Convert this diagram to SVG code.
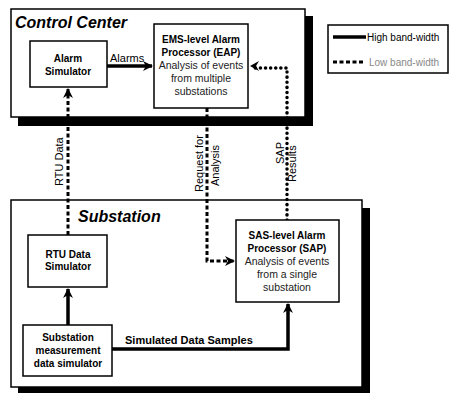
<svg xmlns="http://www.w3.org/2000/svg" width="450" height="393" viewBox="0 0 450 393">
  <defs>
    <style>
      .box { fill: #fff; stroke: #000; stroke-width: 1.5; }
      .shadow { fill: #000; }
      .title { font-family: "Liberation Sans", Arial, sans-serif; font-size: 16px; font-weight: bold; font-style: italic; fill: #000; }
      .bold { font-family: "Liberation Sans", Arial, sans-serif; font-size: 10px; font-weight: bold; fill: #000; text-anchor: middle; }
      .plain { font-family: "Liberation Sans", Arial, sans-serif; font-size: 10.5px; fill: #222; text-anchor: middle; }
      .lbl { font-family: "Liberation Sans", Arial, sans-serif; font-size: 11px; fill: #000; }
      .key { font-family: "Liberation Sans", Arial, sans-serif; font-size: 10px; fill: #000; }
      .high { fill: none; stroke: #000; stroke-width: 3.5; }
      .low { fill: none; stroke: #000; stroke-width: 3; stroke-dasharray: 4 2.5; }
      .dots { fill: none; stroke: #000; stroke-width: 3.5; stroke-linecap: round; stroke-dasharray: 0.1 5; }
    </style>
    <marker id="arrow" viewBox="0 0 10 10" refX="9" refY="5" markerWidth="10" markerHeight="10" markerUnits="userSpaceOnUse" orient="auto">
      <path d="M0,0 L10,5 L0,10 L3,5 Z" fill="#000"/>
    </marker>
  </defs>

  <!-- Control Center container -->
  <g id="control-center">
    <rect class="shadow" x="18" y="16" width="295" height="110"/>
    <rect class="box" x="11" y="9" width="294" height="108"/>
    <text class="title" x="15" y="28">Control Center</text>
  </g>

  <!-- Substation container -->
  <g id="substation">
    <rect class="shadow" x="18" y="208" width="352" height="190"/>
    <rect class="box" x="11" y="200" width="351" height="187"/>
    <text class="title" x="78" y="222">Substation</text>
  </g>

  <!-- Legend -->
  <g id="legend">
    <rect class="box" x="328" y="25" width="120" height="48"/>
    <line x1="333" y1="37" x2="366" y2="37" stroke="#000" stroke-width="3.5"/>
    <text class="key" x="367" y="40.5">High band-width</text>
    <line x1="333" y1="62" x2="364" y2="62" stroke="#000" stroke-width="3" stroke-dasharray="4 2.5"/>
    <text class="key" x="369" y="65.5" style="fill:#888">Low band-width</text>
  </g>

  <!-- Connectors -->
  <g id="connectors">
    <!-- Alarms -->
    <line class="high" x1="107" y1="66" x2="152" y2="66" marker-end="url(#arrow)"/>
    <text class="lbl" x="110" y="62">Alarms</text>
    <!-- RTU Data -->
    <line class="low" x1="68" y1="235" x2="68" y2="89" marker-end="url(#arrow)"/>
    <text class="lbl" transform="translate(63,186) rotate(-90)">RTU Data</text>
    <!-- Request for Analysis -->
    <path class="low" d="M207,108 V261 H234" marker-end="url(#arrow)"/>
    <text class="lbl" transform="translate(203,192) rotate(-90)">Request for</text>
    <text class="lbl" transform="translate(219,186) rotate(-90)">Analysis</text>
    <!-- SAP Results -->
    <path class="dots" d="M287,220 V68 H252"/>
    <path d="M250,66 L259,61 L256,66 L259,71 Z" fill="#000"/>
    <text class="lbl" transform="translate(284,164) rotate(-90)">SAP</text>
    <text class="lbl" transform="translate(296,182) rotate(-90)">Results</text>
    <!-- Measurement to RTU simulator -->
    <line class="high" x1="68" y1="325" x2="68" y2="289" marker-end="url(#arrow)"/>
    <!-- Simulated Data Samples -->
    <path class="high" d="M112,349 H288 V304" marker-end="url(#arrow)"/>
    <text class="lbl" x="125" y="344" font-weight="bold">Simulated Data Samples</text>
  </g>

  <!-- Nodes -->
  <g id="alarm-simulator">
    <rect class="box" x="30" y="41" width="77" height="46"/>
    <text class="bold" x="68" y="62">Alarm</text>
    <text class="bold" x="68" y="75">Simulator</text>
  </g>

  <g id="eap">
    <rect class="box" x="154" y="24" width="94" height="84"/>
    <text class="bold" x="201" y="43">EMS-level Alarm</text>
    <text class="bold" x="201" y="56">Processor (EAP)</text>
    <text class="plain" x="201" y="69">Analysis of events</text>
    <text class="plain" x="201" y="82">from multiple</text>
    <text class="plain" x="201" y="95">substations</text>
  </g>

  <g id="sap">
    <rect class="box" x="236" y="220" width="103" height="82"/>
    <text class="bold" x="287" y="239">SAS-level Alarm</text>
    <text class="bold" x="287" y="252">Processor (SAP)</text>
    <text class="plain" x="287" y="265">Analysis of events</text>
    <text class="plain" x="287" y="278">from a single</text>
    <text class="plain" x="287" y="291">substation</text>
  </g>

  <g id="rtu-simulator">
    <rect class="box" x="28" y="235" width="79" height="52"/>
    <text class="bold" x="68" y="258">RTU Data</text>
    <text class="bold" x="68" y="270">Simulator</text>
  </g>

  <g id="measurement-simulator">
    <rect class="box" x="23" y="325" width="89" height="51"/>
    <text class="bold" x="68" y="341">Substation</text>
    <text class="bold" x="68" y="354">measurement</text>
    <text class="bold" x="68" y="367">data simulator</text>
  </g>
</svg>
